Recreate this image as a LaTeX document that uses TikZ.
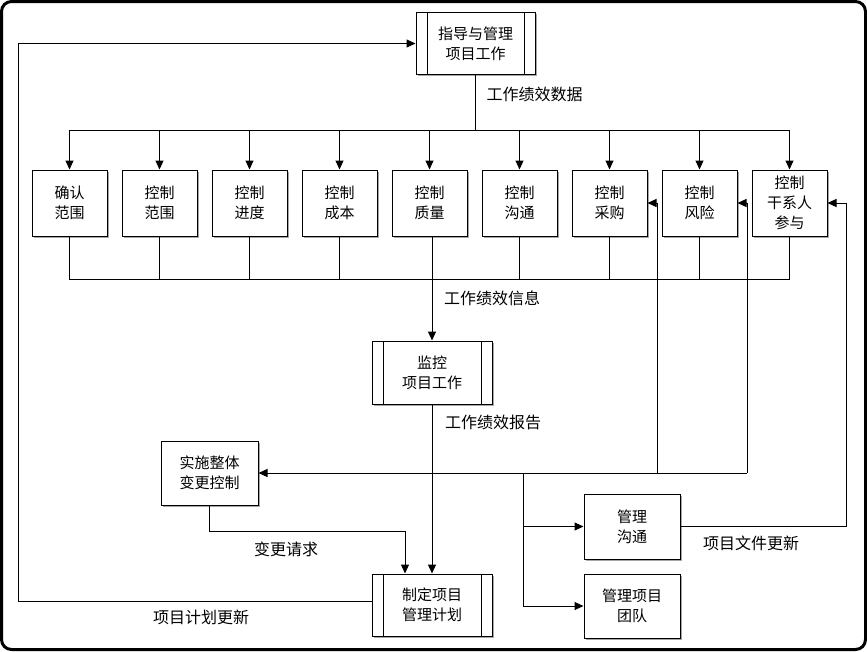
\documentclass[tikz,border=0pt]{standalone}
\usepackage{fontspec}
\setmainfont{Noto Sans CJK SC}
\usetikzlibrary{arrows.meta,shadows}
\tikzset{
  box/.style={draw, line width=1pt, fill=white, align=center, inner sep=0pt,
    font=\fontsize{15}{20}\selectfont,
    drop shadow={shadow xshift=1.5pt, shadow yshift=-1.5pt, fill=black, opacity=0.35}},
  proc/.style={box, path picture={
    \draw[line width=1pt] ([xshift=11pt]path picture bounding box.north west) -- ([xshift=11pt]path picture bounding box.south west);
    \draw[line width=1pt] ([xshift=-11pt]path picture bounding box.north east) -- ([xshift=-11pt]path picture bounding box.south east);}},
  conn/.style={line width=1pt},
  arr/.style={line width=1pt, -{Triangle[length=9pt,width=8pt]}},
  lbl/.style={font=\fontsize{16}{20}\selectfont, inner sep=0pt}
}
\begin{document}
\begin{tikzpicture}[x=1pt,y=-1pt]
\useasboundingbox (0,0) rectangle (867,651);
\draw[line width=3pt, rounded corners=10pt] (1.5,1.5) rectangle (865.5,649.5);

% process nodes
\node[proc, minimum width=119pt, minimum height=62pt] (top) at (475.5,43.5) {指导与管理\\项目工作};
\node[proc, minimum width=120pt, minimum height=63pt] (mon) at (432,372.5) {监控\\项目工作};
\node[proc, minimum width=120pt, minimum height=62pt] (plan) at (432,605) {制定项目\\管理计划};

% nine control boxes
\foreach \i/\t in {1/{确认\\范围},2/{控制\\范围},3/{控制\\进度},4/{控制\\成本},5/{控制\\质量},6/{控制\\沟通},7/{控制\\采购},8/{控制\\风险},9/{控制\\干系人\\参与}}{
  \node[box, minimum width=75pt, minimum height=66pt] (b\i) at ({69.5+90*(\i-1)},203) {\t};
}

\node[box, minimum width=97pt, minimum height=64pt] (icc) at (209.5,473) {实施整体\\变更控制};
\node[box, minimum width=96pt, minimum height=65pt] (mc) at (632,526.5) {管理\\沟通};
\node[box, minimum width=96pt, minimum height=64pt] (mt) at (632,606) {管理项目\\团队};

% coordinates
\coordinate (bt) at (0,130);
\coordinate (bb) at (0,279.5);
\coordinate (jr) at (747,473);
\coordinate (jl) at (657,473);
\coordinate (jm) at (523.5,473);
\coordinate (cr) at (405,531);
\coordinate (rr) at (846,528);
\coordinate (ll) at (18,0);

% top bus
\draw[conn] (top.south) -- (top.south |- bt);
\draw[conn] (b1 |- bt) -- (b9 |- bt);
\foreach \i in {1,...,9}{ \draw[arr] (b\i |- bt) -- (b\i.north); }

% bottom bus
\foreach \i in {1,2,3,4,6,7,8,9}{ \draw[conn] (b\i.south) -- (b\i |- bb); }
\draw[conn] (b1 |- bb) -- (b9 |- bb);
\draw[arr] (b5.south -| mon.north) -- (mon.north);

% monitor -> plan
\draw[arr] (mon.south) -- (plan.north);

% change control -> plan
\draw[arr] (icc.south) |- (cr) -- (cr |- plan.north);

% feedback lines
\draw[arr] (jr) -- (icc.east);
\draw[arr] (jr) |- (b8.east);
\draw[arr] (jl) |- (b7.east);
\draw[arr] (jm) |- (mc.west);
\draw[arr] (jm) |- (mt.west);
\draw[arr] (mc.east) -- (mc.east -| rr) |- (b9.east);

% plan -> top
\draw[arr] ([yshift=4pt]plan.west) -- ([yshift=4pt]plan.west -| ll) |- (top.west);

% labels
\node[lbl] (l1) at (534.5,94) {工作绩效数据};
\node[lbl] (l2) at (492,298) {工作绩效信息};
\node[lbl] (l3) at (493,422) {工作绩效报告};
\node[lbl] (l4) at (286,549) {变更请求};
\node[lbl] (l5) at (201,617) {项目计划更新};
\node[lbl] (l6) at (751,543) {项目文件更新};
\end{tikzpicture}
\end{document}
